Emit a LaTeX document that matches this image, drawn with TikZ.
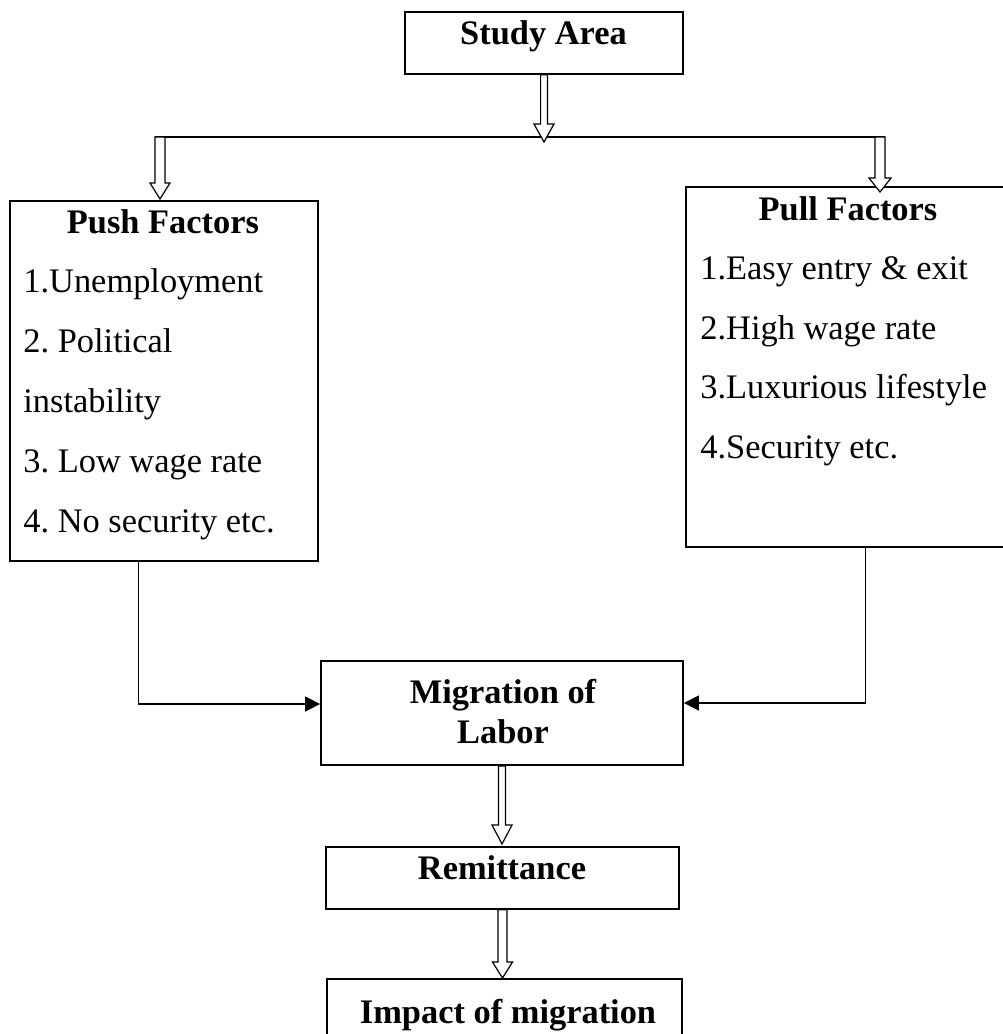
\documentclass[tikz,border=0pt]{standalone}
\usepackage{fontspec}
\setmainfont{Liberation Serif}
\usetikzlibrary{arrows.meta,calc}
\tikzset{
  boxframe/.style={draw, line width=0.65pt, inner sep=0pt},
  lbl/.style={inner sep=0pt, font=\fontsize{17.2}{20}\selectfont\frenchspacing},
  ttl/.style={inner sep=0pt, font=\fontsize{17.2}{20}\selectfont\bfseries\frenchspacing},
  hollow/.style={draw, fill=white, line width=0.6pt, line join=miter},
  conn/.style={draw, line width=0.8pt, -{Triangle[length=7.5pt,width=7.5pt]}},
}
\newcommand\harrow[5]{\path[hollow] let \p1=(#1), \p2=(#2) in
  (\x1-#3,\y1) -- (\x1+#3,\y1) -- (\x1+#3,\y2+#5) -- (\x1+#4,\y2+#5) -- (\x2,\y2)
  -- (\x1-#4,\y2+#5) -- (\x1-#3,\y2+#5) -- cycle;}
\begin{document}
\begin{tikzpicture}[x=0.5pt,y=-0.5pt]
\useasboundingbox (0,0) rectangle (1002,1034);
% boxes
\node[boxframe, minimum width=139pt, minimum height=31pt] (sa) at (544,43) {};
\node[boxframe, minimum width=154pt, minimum height=180pt] (push) at (164,381) {};
\node[boxframe, minimum width=163pt, minimum height=180pt] (pull) at (849,367) {};
\node[boxframe, line width=0.9pt, minimum width=181pt, minimum height=52pt] (mig) at (502,713) {};
\node[boxframe, minimum width=176.5pt, minimum height=31pt] (rem) at (502.5,878) {};
\node[boxframe, minimum width=177.5pt, minimum height=35pt] (imp) at (504.5,1014) {};
% texts
\node[ttl, anchor=base] (satxt) at (543.5,44.5) {Study Area};
\node[ttl, anchor=base] (pushttl) at (163,233) {Push Factors};
\node[lbl, anchor=base west] (p1) at (23,292) {1.Unemployment};
\node[lbl, anchor=base west] (p2) at (23,352) {2. Political};
\node[lbl, anchor=base west] (p3) at (23,412) {instability};
\node[lbl, anchor=base west] (p4) at (23,472) {3. Low wage rate};
\node[lbl, anchor=base west] (p5) at (23,532) {4. No security etc.};
\node[ttl, anchor=base] (pullttl) at (848,220) {Pull Factors};
\node[lbl, anchor=base west] (q1) at (700,279) {1.Easy entry \& exit};
\node[lbl, anchor=base west] (q2) at (700,339) {2.High wage rate};
\node[lbl, anchor=base west] (q3) at (700,398) {3.Luxurious lifestyle};
\node[lbl, anchor=base west] (q4) at (700,458) {4.Security etc.};
\node[ttl, anchor=base] (migtxt1) at (503,703) {Migration of};
\node[ttl, anchor=base] (migtxt2) at (503,743) {Labor};
\node[ttl, anchor=base] (remtxt) at (502,879) {Remittance};
\node[ttl, anchor=base] (imptxt) at (508,1023) {Impact of migration};
% branch line
\coordinate (hL) at (155,137);
\coordinate (hR) at (885,137);
\coordinate (bL) at (160,137);
\coordinate (bR) at (880,137);
\draw[line width=1pt] (hL) -- (hR);
% hollow arrows
\coordinate (t1) at (544,142);
\coordinate (t2) at (160,199);
\coordinate (t3) at (880,192);
\coordinate (t4) at (502,844);
\coordinate (t5) at (502.5,978);
\harrow{sa.south}{t1}{1.7pt}{5pt}{9pt}
\harrow{bL}{t2}{2.5pt}{5pt}{8pt}
\harrow{bR}{t3}{2.5pt}{5.5pt}{7pt}
\harrow{mig.south}{t4}{1.75pt}{5pt}{9.5pt}
\harrow{rem.south}{t5}{2.25pt}{5pt}{8pt}
% connectors into migration
\draw[conn] ([xshift=64.5pt]push.south west) |- ([yshift=4.5pt]mig.west);
\draw[conn] ([xshift=90pt]pull.south west) |- ([yshift=5pt]mig.east);
\end{tikzpicture}
\end{document}
